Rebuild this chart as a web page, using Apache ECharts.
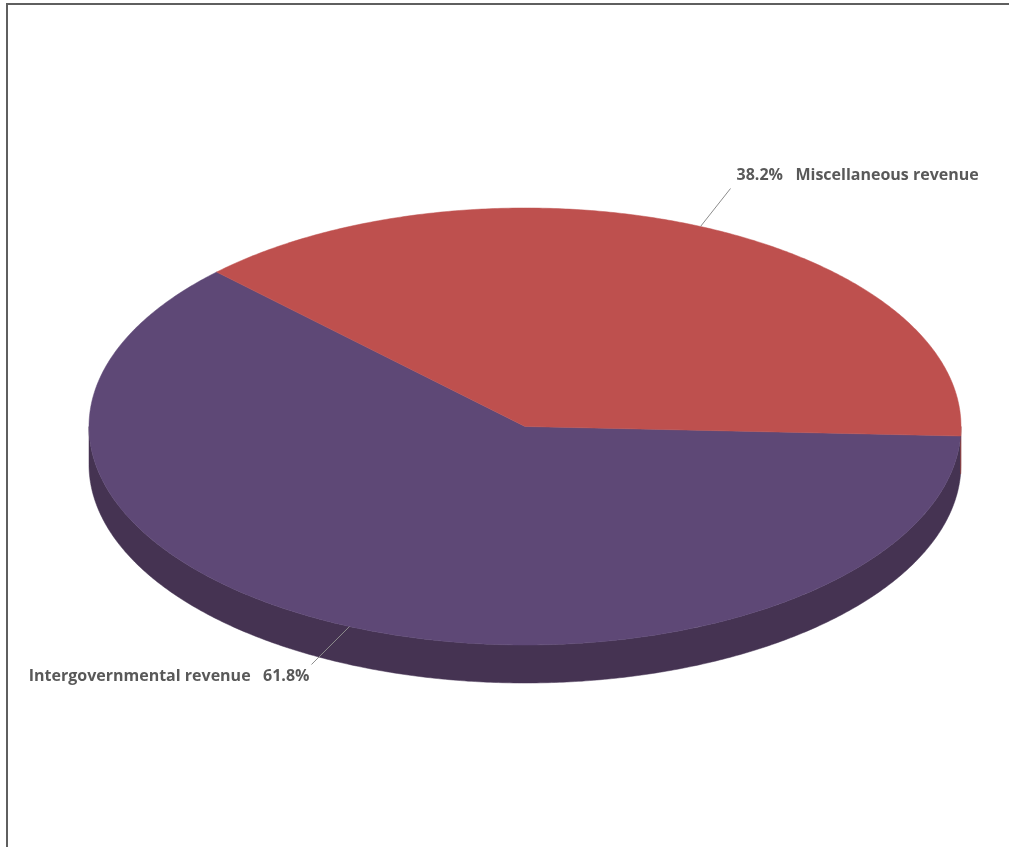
<!DOCTYPE html>
<html>
<head>
<meta charset="utf-8">
<script src="https://cdn.jsdelivr.net/npm/echarts@6/dist/echarts.min.js"></script>
<style>
html,body{margin:0;padding:0;background:#fff;overflow:hidden;}
#frame{position:absolute;left:6px;top:3px;width:1010px;height:850px;border-left:2px solid #5f5f5f;border-top:2px solid #5f5f5f;}
#main{position:absolute;left:0;top:0;width:1009px;height:847px;}
</style>
</head>
<body>
<div id="frame"></div>
<div id="main"></div>
<script>
// ---- data ----
var categories = ['Intergovernmental revenue', 'Miscellaneous revenue'];
var values = [61.8, 38.2];
var topColors = ['#5e4876', '#be504e'];
var sideColors = ['#453352', '#8e3a38'];

// ---- layout (pixels) ----
var CX = 525, CY = 426.5, RX = 436, RY = 218.5, DEPTH = 38;
var START_DEG = 2.5; // screen angle, clockwise from 3 o'clock

var total = values.reduce(function (a, b) { return a + b; }, 0);
var spans = [], acc = START_DEG;
values.forEach(function (v) {
  var s = acc, e = acc + v / total * 360;
  spans.push([s, e]);
  acc = e;
});

function pt(deg, dy) {
  var r = deg * Math.PI / 180;
  return [CX + RX * Math.cos(r), CY + RY * Math.sin(r) + (dy || 0)];
}
function arcPts(a, b, dy) {
  var pts = [], n = Math.max(2, Math.ceil(Math.abs(b - a) / 0.5));
  for (var i = 0; i <= n; i++) pts.push(pt(a + (b - a) * i / n, dy));
  return pts;
}

var seriesData = values.map(function (v, i) { return { name: categories[i], value: v }; });

function renderSide(params, api) {
  var i = params.dataIndex;
  var s = spans[i][0], e = spans[i][1];
  var children = [];
  [0, 360].forEach(function (off) {
    var a = Math.max(s, off), b = Math.min(e, off + 180);
    if (b > a) {
      var top = arcPts(a, b, 0);
      var bot = arcPts(b, a, DEPTH);
      children.push({
        type: 'polygon',
        shape: { points: top.concat(bot) },
        style: { fill: sideColors[i], stroke: sideColors[i], lineWidth: 0.5 }
      });
    }
  });
  return { type: 'group', children: children };
}

function renderTop(params, api) {
  var i = params.dataIndex;
  var s = spans[i][0], e = spans[i][1];
  var pts = [[CX, CY]].concat(arcPts(s, e, 0));
  var mid = (s + e) / 2;
  var anchor = pt(mid, 0);
  var right = Math.cos(mid * Math.PI / 180) >= 0;
  var upper = Math.sin(mid * Math.PI / 180) < 0;
  var end = upper ? [anchor[0] + 30, anchor[1] - 38] : [anchor[0] - 38, anchor[1] + 38];
  var pct = (values[i] / total * 100).toFixed(1) + '%';
  var label = right ? (pct + '   ' + categories[i]) : (categories[i] + '   ' + pct);
  return {
    type: 'group',
    children: [
      { type: 'polygon', shape: { points: pts },
        style: { fill: topColors[i], stroke: topColors[i], lineWidth: 0.5 } },
      { type: 'line', shape: { x1: anchor[0], y1: anchor[1], x2: end[0], y2: end[1] },
        style: { stroke: '#8c8c8c', lineWidth: 1 } },
      { type: 'text',
        x: right ? end[0] + 6 : end[0] - 2,
        y: upper ? end[1] - 13 : end[1] + 12,
        style: { text: label, fill: '#595959', font: 'bold 16px "Open Sans", Lato, sans-serif',
                 align: right ? 'left' : 'right', verticalAlign: 'middle' } }
    ]
  };
}

var chart = echarts.init(document.getElementById('main'), null, { renderer: 'canvas' });
chart.setOption({
  backgroundColor: 'transparent',
  animation: false,
  series: [
    { type: 'custom', coordinateSystem: 'none', renderItem: renderSide, data: seriesData, z: 1 },
    { type: 'custom', coordinateSystem: 'none', renderItem: renderTop, data: seriesData, z: 2 }
  ]
});
</script>
</body>
</html>
